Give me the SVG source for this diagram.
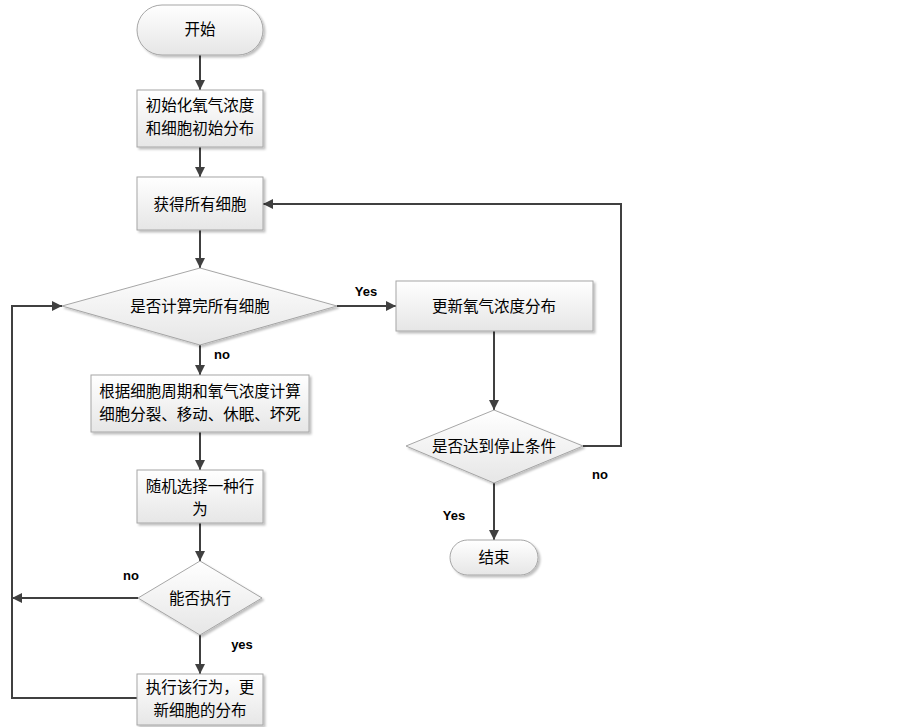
<svg xmlns="http://www.w3.org/2000/svg" width="903" height="727" viewBox="0 0 903 727">
<defs>
<linearGradient id="g" x1="0" y1="0" x2="0" y2="1"><stop offset="0" stop-color="#ffffff"/><stop offset="1" stop-color="#e6e6e6"/></linearGradient>
<filter id="sh" x="-10%" y="-10%" width="130%" height="140%"><feDropShadow dx="2" dy="2" stdDeviation="1.2" flood-color="#000" flood-opacity="0.25"/></filter>
<marker id="ar" viewBox="0 0 10 10" refX="10" refY="5" markerWidth="5" markerHeight="5" orient="auto" markerUnits="strokeWidth"><path d="M0,0 L10,5 L0,10 z" fill="#404040"/></marker>
<style>
.n{fill:url(#g);stroke:#a6a6a6;stroke-width:1;filter:url(#sh)}
.t{font-family:"Noto Sans CJK SC","Noto Sans",sans-serif;font-size:15.5px;fill:#000;text-anchor:middle}
.l{font-family:"Liberation Sans",Arial,sans-serif;font-size:13px;font-weight:bold;fill:#000;text-anchor:middle}
.c{fill:none;stroke:#404040;stroke-width:2;marker-end:url(#ar)}
</style>
</defs>
<rect width="903" height="727" fill="#fff"/>
<g id="connectors">
<path class="c" d="M200,55 V90"/>
<path class="c" d="M200,147 V177"/>
<path class="c" d="M200,230 V268"/>
<path class="c" d="M200,345 V375"/>
<path class="c" d="M200,432 V470"/>
<path class="c" d="M200,523 V561"/>
<path class="c" d="M200,635 V674"/>
<path class="c" d="M337,306 H396"/>
<path class="c" d="M494,331 V410"/>
<path class="c" d="M494,483 V540"/>
<path class="c" d="M583,446 H621 V204 H263"/>
<path class="c" d="M138,598 H12"/>
<path class="c" d="M137,698 H12 V306 H62"/>
</g>
<g id="labels">
<text class="l" x="366" y="296">Yes</text>
<text class="l" x="222" y="359">no</text>
<text class="l" x="600" y="479">no</text>
<text class="l" x="454" y="520">Yes</text>
<text class="l" x="131" y="580">no</text>
<text class="l" x="242" y="649">yes</text>
</g>
<g id="start"><rect class="n" x="137" y="5" width="126" height="50" rx="25"/><text class="t" x="200" y="35">开始</text></g>
<g id="init"><rect class="n" x="137" y="90" width="126" height="57"/><text class="t" x="200" y="111">初始化氧气浓度</text><text class="t" x="200" y="134">和细胞初始分布</text></g>
<g id="getcells"><rect class="n" x="137" y="177" width="126" height="53"/><text class="t" x="200" y="210">获得所有细胞</text></g>
<g id="check1"><polygon class="n" points="200,268 337,306 200,345 62,306"/><text class="t" x="200" y="312">是否计算完所有细胞</text></g>
<g id="compute"><rect class="n" x="91" y="375" width="218" height="57"/><text class="t" x="200" y="397">根据细胞周期和氧气浓度计算</text><text class="t" x="200" y="420">细胞分裂、移动、休眠、坏死</text></g>
<g id="choose"><rect class="n" x="137" y="470" width="126" height="53"/><text class="t" x="200" y="492">随机选择一种行</text><text class="t" x="200" y="515">为</text></g>
<g id="check2"><polygon class="n" points="200,561 262,598 200,635 138,598"/><text class="t" x="200" y="604">能否执行</text></g>
<g id="execute"><rect class="n" x="137" y="674" width="126" height="51"/><text class="t" x="200" y="693">执行该行为，更</text><text class="t" x="200" y="716">新细胞的分布</text></g>
<g id="update"><rect class="n" x="396" y="281" width="197" height="50"/><text class="t" x="494" y="312">更新氧气浓度分布</text></g>
<g id="check3"><polygon class="n" points="494,410 583,446 494,483 406,446"/><text class="t" x="494" y="452">是否达到停止条件</text></g>
<g id="end"><rect class="n" x="450" y="540" width="88" height="35" rx="17.5"/><text class="t" x="494" y="563">结束</text></g>
</svg>
